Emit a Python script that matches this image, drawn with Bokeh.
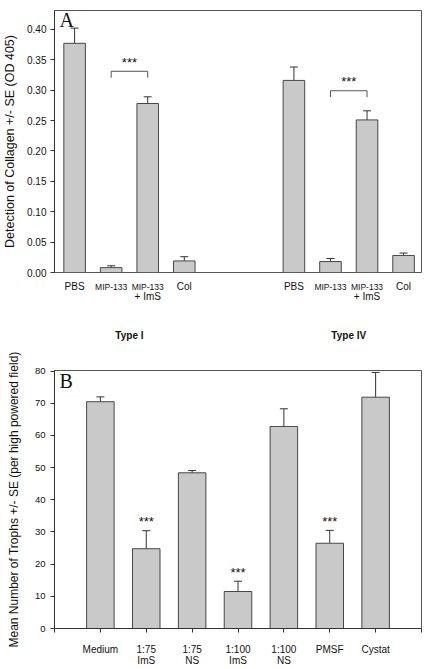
from bokeh.plotting import figure
from bokeh.models import (Range1d, FixedTicker, Label, Whisker, ColumnDataSource,
                          TeeHead, NumeralTickFormatter)
from bokeh.core.properties import value
from bokeh.layouts import column
from bokeh.embed import file_html
from bokeh.resources import INLINE

# ---------------- Panel A data ----------------
a_label_line1 = ["PBS", "MIP-133", "MIP-133", "Col", "PBS", "MIP-133", "MIP-133", "Col"]
a_label_line2 = ["", "", "+ ImS", "", "", "", "+ ImS", ""]
a_slots = [0, 1, 2, 3, 6, 7, 8, 9]
a_values = [0.377, 0.008, 0.278, 0.019, 0.316, 0.018, 0.251, 0.028]
a_se = [0.025, 0.003, 0.011, 0.007, 0.022, 0.005, 0.015, 0.004]
a_groups = ["Type I", "Type IV"]
a_group_members = [[0, 1, 2, 3], [4, 5, 6, 7]]
a_sig_pairs = [(1, 2), (5, 6)]
a_sig_levels = [0.331, 0.299]
a_yticks = [0.0, 0.05, 0.10, 0.15, 0.20, 0.25, 0.30, 0.35, 0.40]

# ---------------- Panel B data ----------------
b_labels = ["Medium", "1:75\nImS", "1:75\nNS", "1:100\nImS", "1:100\nNS", "PMSF", "Cystat"]
b_values = [70.5, 24.8, 48.4, 11.5, 62.8, 26.5, 71.9]
b_se = [1.5, 5.6, 0.7, 3.2, 5.5, 4.0, 7.7]
b_sig = [False, True, False, True, False, True, False]
b_yticks = [0, 10, 20, 30, 40, 50, 60, 70, 80]

SANS = "Liberation Sans"
SERIF = "Liberation Serif"
BAR_FILL = "#c9c9c9"
BAR_LINE = "#474747"
AXIS = "#333333"
TXT = "#111111"


def style_axes(p):
    p.grid.visible = False
    p.outline_line_color = "#555555"
    p.outline_line_width = 1
    p.background_fill_color = "white"
    p.border_fill_color = "white"
    p.yaxis.axis_line_color = AXIS
    p.yaxis.major_tick_line_color = AXIS
    p.yaxis.major_tick_out = 4
    p.yaxis.major_tick_in = 0
    p.yaxis.minor_tick_line_color = None
    p.yaxis.major_label_text_font = SANS
    p.yaxis.major_label_text_color = TXT
    p.yaxis.axis_label_text_font = SANS
    p.yaxis.axis_label_text_font_style = "normal"
    p.yaxis.axis_label_text_color = TXT


# ================= Panel A =================
xrA = Range1d(-0.55, 9.49)
pA = figure(width=426, height=279, output_backend="svg", toolbar_location=None,
            x_range=xrA, y_range=Range1d(0, 0.431),
            min_border_left=50, min_border_right=1, min_border_top=10,
            min_border_bottom=7)
style_axes(pA)
pA.xaxis.visible = False
pA.yaxis.ticker = FixedTicker(ticks=a_yticks)
pA.yaxis.formatter = NumeralTickFormatter(format="0.00")
pA.yaxis.major_label_text_font_size = "10px"
pA.yaxis.major_label_standoff = 4
pA.yaxis.axis_label = "Detection of Collagen +/- SE (OD 405)"
pA.yaxis.axis_label_text_font_size = "12.5px"
pA.yaxis.axis_label_standoff = 7

srcA = ColumnDataSource(dict(x=a_slots, top=a_values,
                             upper=[v + e for v, e in zip(a_values, a_se)]))
pA.vbar(x="x", top="top", width=0.59, source=srcA, fill_color=BAR_FILL,
        line_color=BAR_LINE, line_width=1)
pA.add_layout(Whisker(source=srcA, base="x", lower="top", upper="upper",
                      dimension="height", line_color=AXIS, line_width=1,
                      lower_head=None,
                      upper_head=TeeHead(size=8, line_color=AXIS, line_width=1)))

drop = 0.0105
for (i, j), lvl in zip(a_sig_pairs, a_sig_levels):
    x1, x2 = a_slots[i], a_slots[j]
    pA.line(x=[x1, x1, x2, x2], y=[lvl - drop, lvl, lvl, lvl - drop],
            line_color="#555555", line_width=1)
    pA.add_layout(Label(x=(x1 + x2) / 2, y=lvl, y_offset=9, text="***",
                        text_font=SANS, text_font_size="13px",
                        text_align="center", text_baseline="middle",
                        text_color=TXT))

pA.add_layout(Label(x=-0.55, y=0.431, x_offset=5, y_offset=2, text="A",
                    text_font=SERIF, text_font_size="20px",
                    text_align="left", text_baseline="top", text_color=TXT))

# ---- strip under panel A holding its category and group labels ----
# y in this strip = pixels below panel A's baseline (negative down)
pL = figure(width=426, height=64, output_backend="svg", toolbar_location=None,
            x_range=xrA, y_range=Range1d(-71, -7),
            min_border_left=50, min_border_right=1, min_border_top=0,
            min_border_bottom=0)
pL.axis.visible = False
pL.grid.visible = False
pL.outline_line_color = None
pL.background_fill_color = "white"
pL.border_fill_color = "white"

line1_sizes = ["8.5px" if t.startswith("MIP") else "10px" for t in a_label_line1]
src_l1 = ColumnDataSource(dict(x=a_slots, y=[-14] * len(a_slots),
                               text=a_label_line1, size=line1_sizes))
pL.text(x="x", y="y", text="text", source=src_l1, text_font=value(SANS),
        text_font_size="size", text_align="center", text_baseline="middle",
        text_color=TXT)
l2 = [(s, t) for s, t in zip(a_slots, a_label_line2) if t]
src_l2 = ColumnDataSource(dict(x=[s for s, _ in l2], y=[-24] * len(l2),
                               text=[t for _, t in l2]))
pL.text(x="x", y="y", text="text", source=src_l2, text_font=value(SANS),
        text_font_size="10px", text_align="center", text_baseline="middle",
        text_color=TXT)
group_pos = [sum(a_slots[m] for m in members) / len(members) for members in a_group_members]
src_g = ColumnDataSource(dict(x=group_pos, y=[-63] * len(group_pos), text=a_groups))
pL.text(x="x", y="y", text="text", source=src_g, text_font=value(SANS),
        text_font_size="10px", text_font_style="bold", text_align="center",
        text_baseline="middle", text_color=TXT)

# ================= Panel B =================
b_x = list(range(len(b_labels)))
pB = figure(width=426, height=325, output_backend="svg", toolbar_location=None,
            x_range=Range1d(-1, len(b_labels)), y_range=Range1d(0, 80.2),
            min_border_left=51, min_border_right=5, min_border_top=27,
            min_border_bottom=37)
style_axes(pB)
pB.yaxis.ticker = FixedTicker(ticks=b_yticks)
pB.yaxis.major_label_text_font_size = "9.5px"
pB.yaxis.major_label_standoff = 5
pB.yaxis.axis_label = "Mean Number of Trophs +/- SE (per high powered field)"
pB.yaxis.axis_label_text_font_size = "12px"
pB.yaxis.axis_label_standoff = 11

pB.xaxis.ticker = FixedTicker(ticks=list(range(-1, len(b_labels) + 1)))
overrides = {-1: "", len(b_labels): ""}
for i, lab in enumerate(b_labels):
    overrides[i] = lab
pB.xaxis.major_label_overrides = overrides
pB.xaxis.axis_line_color = AXIS
pB.xaxis.major_tick_line_color = AXIS
pB.xaxis.major_tick_out = 4
pB.xaxis.major_tick_in = 0
pB.xaxis.minor_tick_line_color = None
pB.xaxis.major_label_text_font = SANS
pB.xaxis.major_label_text_font_size = "10px"
pB.xaxis.major_label_text_line_height = 1.0
pB.xaxis.major_label_text_color = TXT
pB.xaxis.major_label_standoff = 11

srcB = ColumnDataSource(dict(x=b_x, top=b_values,
                             upper=[v + e for v, e in zip(b_values, b_se)]))
pB.vbar(x="x", top="top", width=0.6, source=srcB, fill_color=BAR_FILL,
        line_color=BAR_LINE, line_width=1)
pB.add_layout(Whisker(source=srcB, base="x", lower="top", upper="upper",
                      dimension="height", line_color=AXIS, line_width=1,
                      lower_head=None,
                      upper_head=TeeHead(size=8, line_color=AXIS, line_width=1)))

for i, s in enumerate(b_sig):
    if s:
        pB.add_layout(Label(x=b_x[i], y=b_values[i] + b_se[i], y_offset=9,
                            text="***", text_font=SANS, text_font_size="13px",
                            text_align="center", text_baseline="middle",
                            text_color=TXT))

pB.add_layout(Label(x=-1, y=80.2, x_offset=5, y_offset=1, text="B",
                    text_font=SERIF, text_font_size="20px",
                    text_align="left", text_baseline="top", text_color=TXT))

layout = column(pA, pL, pB, spacing=0)
open("out.html", "w").write(file_html(layout, INLINE))
